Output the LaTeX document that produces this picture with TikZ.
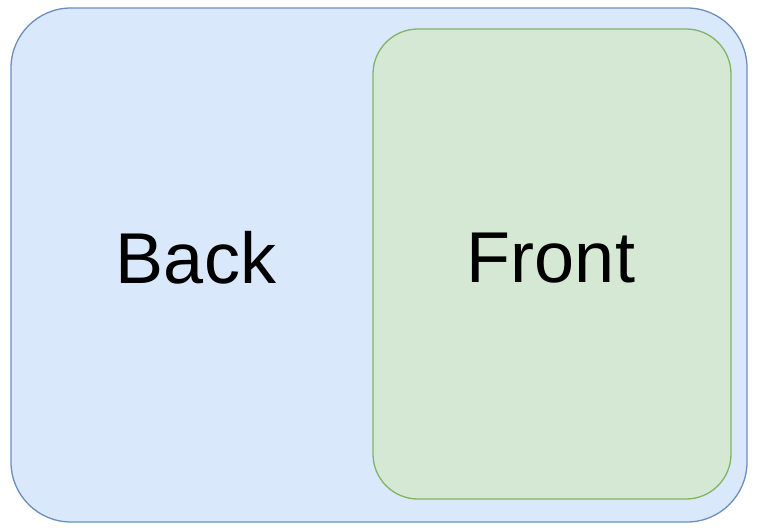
\documentclass[tikz,border=0pt]{standalone}
\usepackage{fontspec}
\setmainfont{Liberation Sans}
\usepackage{tikz}
\definecolor{backfill}{HTML}{DAE8FC}
\definecolor{backline}{HTML}{6C8EBF}
\definecolor{frontfill}{HTML}{D5E8D4}
\definecolor{frontline}{HTML}{82B366}
\tikzset{
  panel/.style={draw, line width=1.3pt, inner sep=0pt},
  label/.style={font=\fontsize{72}{86}\selectfont, inner sep=0pt}
}
\begin{document}
\begin{tikzpicture}[x=1pt,y=-1pt]
\useasboundingbox (0,0) rectangle (757,530);
\node[panel, fill=backfill, draw=backline, rounded corners=60pt,
  minimum width=736pt, minimum height=514pt] (back) at (379,265) {};
\node[panel, fill=frontfill, draw=frontline, rounded corners=45pt,
  minimum width=358pt, minimum height=470pt] (front) at (552,264) {};
\node[label] (backtext) at (196,258) {Back};
\node[label] (fronttext) at (551,258) {Front};
\end{tikzpicture}
\end{document}
